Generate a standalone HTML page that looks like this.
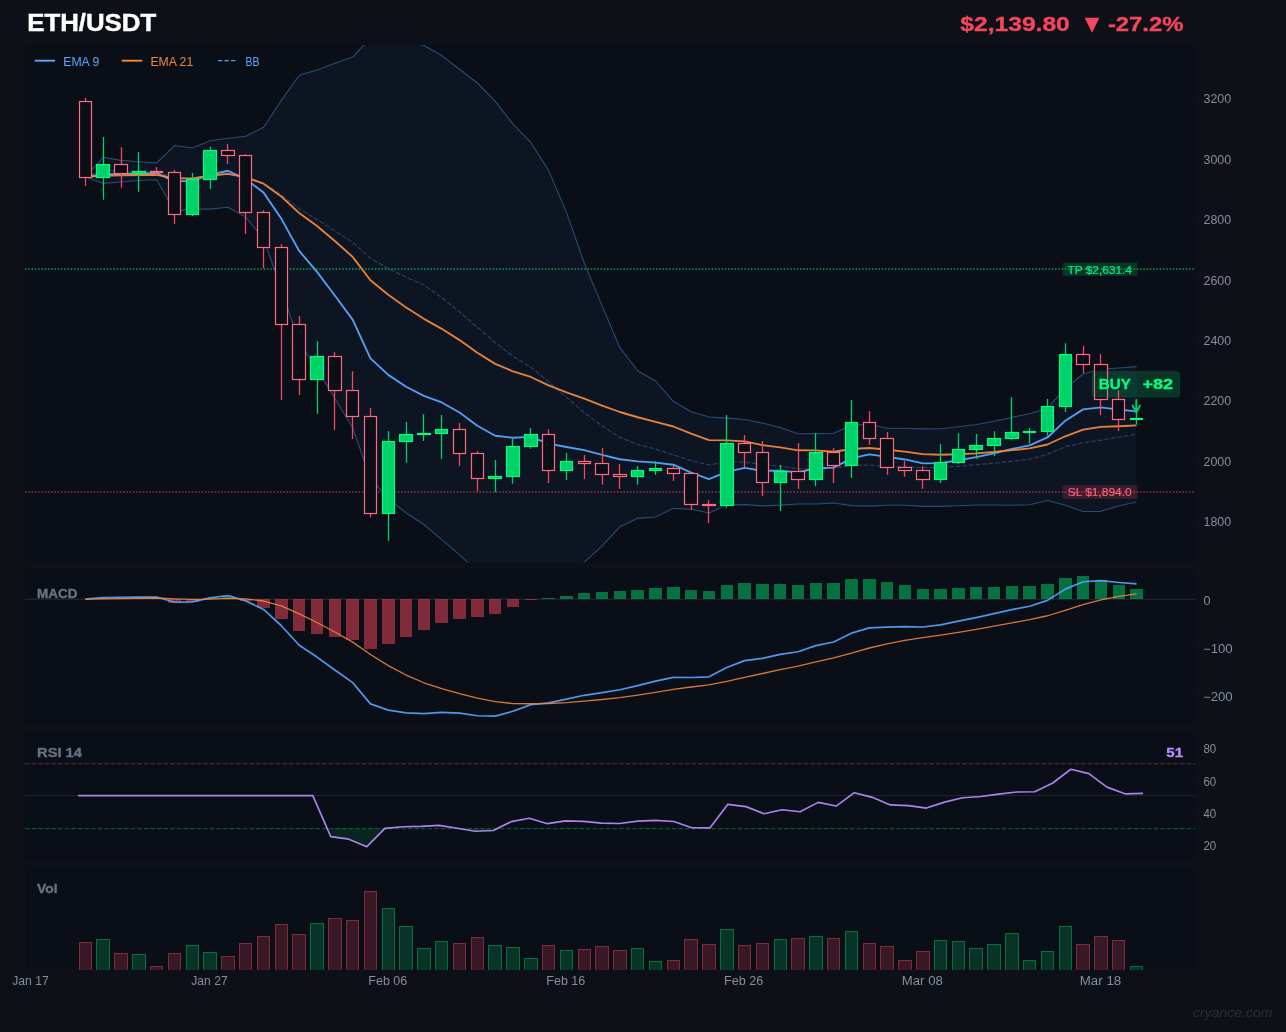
<!DOCTYPE html>
<html><head><meta charset="utf-8"><title>ETH/USDT</title>
<style>html,body{margin:0;padding:0;background:#0d1117;}svg{display:block;will-change:transform;}body{width:1286px;height:1032px;overflow:hidden;font-family:"Liberation Sans",sans-serif;}</style></head>
<body>
<svg width="1286" height="1032" viewBox="0 0 1286 1032" font-family="'Liberation Sans', sans-serif">
<rect width="1286" height="1032" fill="#0d1117"/>
<rect x="25" y="45" width="1170" height="517.5" fill="#0a0e17"/>
<rect x="25" y="569" width="1170" height="155" fill="#0a0e17"/>
<rect x="25" y="731" width="1170" height="129" fill="#0a0e17"/>
<rect x="25" y="867" width="1170" height="103" fill="#0a0e17"/>
<defs>
<clipPath id="cm"><rect x="25" y="45" width="1170" height="517.5"/></clipPath>
<clipPath id="cd"><rect x="25" y="569" width="1170" height="155"/></clipPath>
<clipPath id="cr"><rect x="25" y="731" width="1170" height="129"/></clipPath>
<clipPath id="cv"><rect x="25" y="867" width="1170" height="103"/></clipPath>
</defs>
<line x1="25" x2="1195" y1="520.68" y2="520.68" stroke="#ffffff" stroke-opacity="0.013" stroke-width="1"/>
<line x1="25" x2="1195" y1="460.21" y2="460.21" stroke="#ffffff" stroke-opacity="0.013" stroke-width="1"/>
<line x1="25" x2="1195" y1="399.74" y2="399.74" stroke="#ffffff" stroke-opacity="0.013" stroke-width="1"/>
<line x1="25" x2="1195" y1="339.27" y2="339.27" stroke="#ffffff" stroke-opacity="0.013" stroke-width="1"/>
<line x1="25" x2="1195" y1="278.8" y2="278.8" stroke="#ffffff" stroke-opacity="0.013" stroke-width="1"/>
<line x1="25" x2="1195" y1="218.33" y2="218.33" stroke="#ffffff" stroke-opacity="0.013" stroke-width="1"/>
<line x1="25" x2="1195" y1="157.86" y2="157.86" stroke="#ffffff" stroke-opacity="0.013" stroke-width="1"/>
<line x1="25" x2="1195" y1="97.39" y2="97.39" stroke="#ffffff" stroke-opacity="0.013" stroke-width="1"/>
<g clip-path="url(#cm)">
<polygon points="85.4,176.9 103.22,157.4 121.03,160.35 138.85,161.69 156.67,162.85 174.48,145.56 192.3,148.03 210.12,140.67 227.93,138.21 245.75,136.24 263.57,127.28 281.38,100.43 299.2,75.23 317.01,70.04 334.83,63.25 352.65,57.04 370.46,37.91 388.28,38.52 406.1,41.48 423.91,45.43 441.73,55.6 459.55,69.2 477.36,83 495.18,101.17 513,124.2 530.81,142.44 548.63,170.4 566.45,212.4 584.26,263 602.08,305.61 619.89,347.71 637.71,370.78 655.53,381.01 673.34,401.34 691.16,411.77 708.98,417.06 726.79,418.12 744.61,419.47 762.43,423.06 780.24,427.55 798.06,433.78 815.88,433.62 833.69,433.23 851.51,425.26 869.33,423.98 887.14,428.22 904.96,428.21 922.78,428.87 940.59,428.78 958.41,426.79 976.23,424.43 994.04,421.26 1011.86,417.35 1029.67,413.7 1047.49,408.04 1065.31,388.2 1083.12,374.02 1100.94,368.96 1118.76,367.99 1136.57,366.67 1136.57,502.05 1118.76,506.01 1100.94,511.34 1083.12,511.57 1065.31,505.28 1047.49,500.58 1029.67,504.74 1011.86,505.3 994.04,505 976.23,505.02 958.41,505.81 940.59,506.35 922.78,506.38 904.96,505.19 887.14,505.19 869.33,506.12 851.51,505.62 833.69,503.08 815.88,503.98 798.06,503.93 780.24,505.13 762.43,505.83 744.61,504.6 726.79,504.84 708.98,512.94 691.16,509.33 673.34,508.36 655.53,516.96 637.71,518.34 619.89,526.82 602.08,545.97 584.26,562.41 566.45,582.24 548.63,593.15 530.81,591.98 513,588.26 495.18,583.92 477.36,571.59 459.55,554.84 441.73,539.55 423.91,524.53 406.1,512.93 388.28,498.47 370.46,478.79 352.65,427.8 334.83,398.44 317.01,368.9 299.2,342.73 281.38,289.16 263.57,238.85 245.75,217.14 227.93,207.25 210.12,209.13 192.3,208.94 174.48,211.34 156.67,179.75 138.85,180.51 121.03,182.05 103.22,183.4 85.4,176.9" fill="#58a6ff" fill-opacity="0.05"/>
<polyline points="85.4,176.9 103.22,157.4 121.03,160.35 138.85,161.69 156.67,162.85 174.48,145.56 192.3,148.03 210.12,140.67 227.93,138.21 245.75,136.24 263.57,127.28 281.38,100.43 299.2,75.23 317.01,70.04 334.83,63.25 352.65,57.04 370.46,37.91 388.28,38.52 406.1,41.48 423.91,45.43 441.73,55.6 459.55,69.2 477.36,83 495.18,101.17 513,124.2 530.81,142.44 548.63,170.4 566.45,212.4 584.26,263 602.08,305.61 619.89,347.71 637.71,370.78 655.53,381.01 673.34,401.34 691.16,411.77 708.98,417.06 726.79,418.12 744.61,419.47 762.43,423.06 780.24,427.55 798.06,433.78 815.88,433.62 833.69,433.23 851.51,425.26 869.33,423.98 887.14,428.22 904.96,428.21 922.78,428.87 940.59,428.78 958.41,426.79 976.23,424.43 994.04,421.26 1011.86,417.35 1029.67,413.7 1047.49,408.04 1065.31,388.2 1083.12,374.02 1100.94,368.96 1118.76,367.99 1136.57,366.67" fill="none" stroke="#58a6ff" stroke-opacity="0.4" stroke-width="1.1" stroke-linejoin="round"/>
<polyline points="85.4,176.9 103.22,183.4 121.03,182.05 138.85,180.51 156.67,179.75 174.48,211.34 192.3,208.94 210.12,209.13 227.93,207.25 245.75,217.14 263.57,238.85 281.38,289.16 299.2,342.73 317.01,368.9 334.83,398.44 352.65,427.8 370.46,478.79 388.28,498.47 406.1,512.93 423.91,524.53 441.73,539.55 459.55,554.84 477.36,571.59 495.18,583.92 513,588.26 530.81,591.98 548.63,593.15 566.45,582.24 584.26,562.41 602.08,545.97 619.89,526.82 637.71,518.34 655.53,516.96 673.34,508.36 691.16,509.33 708.98,512.94 726.79,504.84 744.61,504.6 762.43,505.83 780.24,505.13 798.06,503.93 815.88,503.98 833.69,503.08 851.51,505.62 869.33,506.12 887.14,505.19 904.96,505.19 922.78,506.38 940.59,506.35 958.41,505.81 976.23,505.02 994.04,505 1011.86,505.3 1029.67,504.74 1047.49,500.58 1065.31,505.28 1083.12,511.57 1100.94,511.34 1118.76,506.01 1136.57,502.05" fill="none" stroke="#58a6ff" stroke-opacity="0.4" stroke-width="1.1" stroke-linejoin="round"/>
<polyline points="85.4,176.9 103.22,170.4 121.03,171.2 138.85,171.1 156.67,171.3 174.48,178.45 192.3,178.49 210.12,174.9 227.93,172.73 245.75,176.69 263.57,183.06 281.38,194.79 299.2,208.98 317.01,219.47 334.83,230.85 352.65,242.42 370.46,258.35 388.28,268.49 406.1,277.21 423.91,284.98 441.73,297.57 459.55,312.02 477.36,327.3 495.18,342.55 513,356.23 530.81,367.21 548.63,381.78 566.45,397.32 584.26,412.71 602.08,425.79 619.89,437.26 637.71,444.56 655.53,448.98 673.34,454.85 691.16,460.55 708.98,465 726.79,461.48 744.61,462.04 762.43,464.45 780.24,466.34 798.06,468.86 815.88,468.8 833.69,468.16 851.51,465.44 869.33,465.05 887.14,466.71 904.96,466.7 922.78,467.62 940.59,467.56 958.41,466.3 976.23,464.73 994.04,463.13 1011.86,461.32 1029.67,459.22 1047.49,454.31 1065.31,446.74 1083.12,442.79 1100.94,440.15 1118.76,437 1136.57,434.36" fill="none" stroke="#58a6ff" stroke-opacity="0.3" stroke-width="1.25" stroke-dasharray="4.6 2"/>
<polyline points="85.4,176.9 103.22,174.3 121.03,174 138.85,173.36 156.67,173.11 174.48,181.33 192.3,180.8 210.12,174.6 227.93,170.76 245.75,179.07 263.57,192.61 281.38,218.85 299.2,250.94 317.01,271.91 334.83,295.55 352.65,319.64 370.46,358.37 388.28,374.88 406.1,386.7 423.91,395.9 441.73,402.48 459.55,412.55 477.36,425.7 495.18,435.72 513,437.73 530.81,436.95 548.63,443.56 566.45,446.99 584.26,450.21 602.08,454.97 619.89,459.23 637.71,461.33 655.53,462.62 673.34,464.72 691.16,472.59 708.98,479.08 726.79,471.84 744.61,467.87 762.43,470.74 780.24,470.71 798.06,472.39 815.88,468.25 833.69,467.68 851.51,458.44 869.33,454.36 887.14,456.86 904.96,459.47 922.78,463.42 940.59,463.11 958.41,460.23 976.23,457.14 994.04,453.28 1011.86,448.96 1029.67,445.37 1047.49,437.47 1065.31,420.7 1083.12,409.36 1100.94,407.31 1118.76,409.69 1136.57,411.31" fill="none" stroke="#58a6ff" stroke-opacity="0.95" stroke-width="1.85" stroke-linejoin="round"/>
<polyline points="85.4,176.9 103.22,175.72 121.03,175.45 138.85,175.03 156.67,174.76 174.48,178.35 192.3,178.38 210.12,175.78 227.93,173.93 245.75,177.42 263.57,183.73 281.38,196.46 299.2,213.08 317.01,226.06 334.83,240.97 352.65,256.88 370.46,280.19 388.28,294.8 406.1,307.46 423.91,318.84 441.73,328.84 459.55,340.11 477.36,352.67 495.18,363.86 513,371.31 530.81,376.99 548.63,385.45 566.45,392.29 584.26,398.73 602.08,405.57 619.89,412 637.71,417.25 655.53,421.84 673.34,426.5 691.16,433.56 708.98,440.05 726.79,440.31 744.61,441.37 762.43,445.08 780.24,447.4 798.06,450.29 815.88,450.41 833.69,451.78 851.51,449.02 869.33,448.02 887.14,449.74 904.96,451.57 922.78,454.08 940.59,454.79 958.41,454.24 976.23,453.38 994.04,451.96 1011.86,450.12 1029.67,448.38 1047.49,444.52 1065.31,436.26 1083.12,429.69 1100.94,426.91 1118.76,426.21 1136.57,425.44" fill="none" stroke="#f0883e" stroke-opacity="0.95" stroke-width="1.85" stroke-linejoin="round"/>
<line x1="25" x2="1195" y1="269.0" y2="269.0" stroke="#00d26a" stroke-opacity="0.78" stroke-width="1.55" stroke-dasharray="1.5 1.77"/>
<line x1="25" x2="1195" y1="492.0" y2="492.0" stroke="#f6465d" stroke-opacity="0.62" stroke-width="1.55" stroke-dasharray="1.5 1.77"/>
<line x1="85.5" x2="85.5" y1="97.9" y2="186" stroke="#f6465d" stroke-width="1.3"/>
<rect x="79.5" y="101.5" width="12" height="76" fill="#0a0e17" stroke="#ff6b81" stroke-width="1.2"/>
<line x1="103.5" x2="103.5" y1="137.1" y2="199.8" stroke="#00d26a" stroke-width="1.3"/>
<rect x="96.5" y="164.5" width="13" height="13" fill="#00d26a" stroke="#00ff7f" stroke-width="1.15"/>
<line x1="121.5" x2="121.5" y1="147.2" y2="187.8" stroke="#f6465d" stroke-width="1.3"/>
<rect x="114.5" y="164.5" width="13" height="9" fill="#0a0e17" stroke="#ff6b81" stroke-width="1.2"/>
<line x1="138.5" x2="138.5" y1="152" y2="191.7" stroke="#00d26a" stroke-width="1.3"/>
<rect x="132.5" y="171.5" width="13" height="2" fill="#00d26a" stroke="#00ff7f" stroke-width="1.15"/>
<line x1="156.5" x2="156.5" y1="167.1" y2="175.6" stroke="#f6465d" stroke-width="1.3"/>
<rect x="150.5" y="171.5" width="12" height="1" fill="#0a0e17" stroke="#ff6b81" stroke-width="1.2"/>
<line x1="174.5" x2="174.5" y1="169.9" y2="223.9" stroke="#f6465d" stroke-width="1.3"/>
<rect x="168.5" y="172.5" width="12" height="42" fill="#0a0e17" stroke="#ff6b81" stroke-width="1.2"/>
<line x1="192.5" x2="192.5" y1="173" y2="216.1" stroke="#00d26a" stroke-width="1.3"/>
<rect x="186.5" y="179.5" width="12" height="35" fill="#00d26a" stroke="#00ff7f" stroke-width="1.15"/>
<line x1="210.5" x2="210.5" y1="146.9" y2="188.9" stroke="#00d26a" stroke-width="1.3"/>
<rect x="203.5" y="150.5" width="13" height="29" fill="#00d26a" stroke="#00ff7f" stroke-width="1.15"/>
<line x1="227.5" x2="227.5" y1="143.8" y2="164" stroke="#f6465d" stroke-width="1.3"/>
<rect x="221.5" y="150.5" width="13" height="5" fill="#0a0e17" stroke="#ff6b81" stroke-width="1.2"/>
<line x1="245.5" x2="245.5" y1="154.2" y2="234" stroke="#f6465d" stroke-width="1.3"/>
<rect x="239.5" y="155.5" width="12" height="57" fill="#0a0e17" stroke="#ff6b81" stroke-width="1.2"/>
<line x1="263.5" x2="263.5" y1="210.3" y2="268.3" stroke="#f6465d" stroke-width="1.3"/>
<rect x="257.5" y="212.5" width="12" height="35" fill="#0a0e17" stroke="#ff6b81" stroke-width="1.2"/>
<line x1="281.5" x2="281.5" y1="244.3" y2="400.1" stroke="#f6465d" stroke-width="1.3"/>
<rect x="275.5" y="247.5" width="12" height="77" fill="#0a0e17" stroke="#ff6b81" stroke-width="1.2"/>
<line x1="299.5" x2="299.5" y1="316" y2="395.1" stroke="#f6465d" stroke-width="1.3"/>
<rect x="292.5" y="324.5" width="13" height="55" fill="#0a0e17" stroke="#ff6b81" stroke-width="1.2"/>
<line x1="317.5" x2="317.5" y1="341.2" y2="413.8" stroke="#00d26a" stroke-width="1.3"/>
<rect x="310.5" y="356.5" width="13" height="23" fill="#00d26a" stroke="#00ff7f" stroke-width="1.15"/>
<line x1="334.5" x2="334.5" y1="352.1" y2="430.1" stroke="#f6465d" stroke-width="1.3"/>
<rect x="328.5" y="356.5" width="13" height="34" fill="#0a0e17" stroke="#ff6b81" stroke-width="1.2"/>
<line x1="352.5" x2="352.5" y1="371.2" y2="439" stroke="#f6465d" stroke-width="1.3"/>
<rect x="346.5" y="390.5" width="12" height="26" fill="#0a0e17" stroke="#ff6b81" stroke-width="1.2"/>
<line x1="370.5" x2="370.5" y1="408" y2="517.2" stroke="#f6465d" stroke-width="1.3"/>
<rect x="364.5" y="416.5" width="12" height="97" fill="#0a0e17" stroke="#ff6b81" stroke-width="1.2"/>
<line x1="388.5" x2="388.5" y1="431.2" y2="540.8" stroke="#00d26a" stroke-width="1.3"/>
<rect x="382.5" y="441.5" width="12" height="72" fill="#00d26a" stroke="#00ff7f" stroke-width="1.15"/>
<line x1="406.5" x2="406.5" y1="422" y2="462.8" stroke="#00d26a" stroke-width="1.3"/>
<rect x="399.5" y="434.5" width="13" height="7" fill="#00d26a" stroke="#00ff7f" stroke-width="1.15"/>
<line x1="423.5" x2="423.5" y1="414.1" y2="441" stroke="#00d26a" stroke-width="1.3"/>
<rect x="417.5" y="433.5" width="13" height="1" fill="#00d26a" stroke="#00ff7f" stroke-width="1.15"/>
<line x1="441.5" x2="441.5" y1="415" y2="458.9" stroke="#00d26a" stroke-width="1.3"/>
<rect x="435.5" y="429.5" width="12" height="4" fill="#00d26a" stroke="#00ff7f" stroke-width="1.15"/>
<line x1="459.5" x2="459.5" y1="423.1" y2="465.9" stroke="#f6465d" stroke-width="1.3"/>
<rect x="453.5" y="429.5" width="12" height="24" fill="#0a0e17" stroke="#ff6b81" stroke-width="1.2"/>
<line x1="477.5" x2="477.5" y1="451.1" y2="491.1" stroke="#f6465d" stroke-width="1.3"/>
<rect x="471.5" y="453.5" width="12" height="25" fill="#0a0e17" stroke="#ff6b81" stroke-width="1.2"/>
<line x1="495.5" x2="495.5" y1="460.1" y2="492.3" stroke="#00d26a" stroke-width="1.3"/>
<rect x="488.5" y="476.5" width="13" height="2" fill="#00d26a" stroke="#00ff7f" stroke-width="1.15"/>
<line x1="512.5" x2="512.5" y1="438.7" y2="483.8" stroke="#00d26a" stroke-width="1.3"/>
<rect x="506.5" y="446.5" width="13" height="30" fill="#00d26a" stroke="#00ff7f" stroke-width="1.15"/>
<line x1="530.5" x2="530.5" y1="428.1" y2="448.8" stroke="#00d26a" stroke-width="1.3"/>
<rect x="524.5" y="434.5" width="13" height="12" fill="#00d26a" stroke="#00ff7f" stroke-width="1.15"/>
<line x1="548.5" x2="548.5" y1="429.3" y2="483" stroke="#f6465d" stroke-width="1.3"/>
<rect x="542.5" y="434.5" width="12" height="36" fill="#0a0e17" stroke="#ff6b81" stroke-width="1.2"/>
<line x1="566.5" x2="566.5" y1="453" y2="479.9" stroke="#00d26a" stroke-width="1.3"/>
<rect x="560.5" y="461.5" width="12" height="9" fill="#00d26a" stroke="#00ff7f" stroke-width="1.15"/>
<line x1="584.5" x2="584.5" y1="455" y2="479.1" stroke="#f6465d" stroke-width="1.3"/>
<rect x="578.5" y="461.5" width="12" height="2" fill="#0a0e17" stroke="#ff6b81" stroke-width="1.2"/>
<line x1="602.5" x2="602.5" y1="448" y2="484.8" stroke="#f6465d" stroke-width="1.3"/>
<rect x="595.5" y="463.5" width="13" height="11" fill="#0a0e17" stroke="#ff6b81" stroke-width="1.2"/>
<line x1="619.5" x2="619.5" y1="464" y2="488.9" stroke="#f6465d" stroke-width="1.3"/>
<rect x="613.5" y="474.5" width="13" height="2" fill="#0a0e17" stroke="#ff6b81" stroke-width="1.2"/>
<line x1="637.5" x2="637.5" y1="465.9" y2="484.8" stroke="#00d26a" stroke-width="1.3"/>
<rect x="631.5" y="470.5" width="12" height="6" fill="#00d26a" stroke="#00ff7f" stroke-width="1.15"/>
<line x1="655.5" x2="655.5" y1="461.2" y2="474.9" stroke="#00d26a" stroke-width="1.3"/>
<rect x="649.5" y="468.5" width="12" height="2" fill="#00d26a" stroke="#00ff7f" stroke-width="1.15"/>
<line x1="673.5" x2="673.5" y1="465.9" y2="481" stroke="#f6465d" stroke-width="1.3"/>
<rect x="667.5" y="468.5" width="12" height="5" fill="#0a0e17" stroke="#ff6b81" stroke-width="1.2"/>
<line x1="691.5" x2="691.5" y1="473.6" y2="509.7" stroke="#f6465d" stroke-width="1.3"/>
<rect x="684.5" y="473.5" width="13" height="31" fill="#0a0e17" stroke="#ff6b81" stroke-width="1.2"/>
<line x1="708.5" x2="708.5" y1="500.1" y2="522.9" stroke="#f6465d" stroke-width="1.3"/>
<rect x="702.5" y="504.5" width="13" height="1" fill="#0a0e17" stroke="#ff6b81" stroke-width="1.2"/>
<line x1="726.5" x2="726.5" y1="415" y2="507.9" stroke="#00d26a" stroke-width="1.3"/>
<rect x="720.5" y="443.5" width="13" height="62" fill="#00d26a" stroke="#00ff7f" stroke-width="1.15"/>
<line x1="744.5" x2="744.5" y1="435.1" y2="467" stroke="#f6465d" stroke-width="1.3"/>
<rect x="738.5" y="443.5" width="12" height="9" fill="#0a0e17" stroke="#ff6b81" stroke-width="1.2"/>
<line x1="762.5" x2="762.5" y1="441" y2="495.9" stroke="#f6465d" stroke-width="1.3"/>
<rect x="756.5" y="452.5" width="12" height="30" fill="#0a0e17" stroke="#ff6b81" stroke-width="1.2"/>
<line x1="780.5" x2="780.5" y1="465.1" y2="511" stroke="#00d26a" stroke-width="1.3"/>
<rect x="774.5" y="471.5" width="12" height="11" fill="#00d26a" stroke="#00ff7f" stroke-width="1.15"/>
<line x1="798.5" x2="798.5" y1="443" y2="488.9" stroke="#f6465d" stroke-width="1.3"/>
<rect x="791.5" y="471.5" width="13" height="8" fill="#0a0e17" stroke="#ff6b81" stroke-width="1.2"/>
<line x1="815.5" x2="815.5" y1="433.2" y2="486.1" stroke="#00d26a" stroke-width="1.3"/>
<rect x="809.5" y="452.5" width="13" height="27" fill="#00d26a" stroke="#00ff7f" stroke-width="1.15"/>
<line x1="833.5" x2="833.5" y1="448" y2="483" stroke="#f6465d" stroke-width="1.3"/>
<rect x="827.5" y="452.5" width="12" height="13" fill="#0a0e17" stroke="#ff6b81" stroke-width="1.2"/>
<line x1="851.5" x2="851.5" y1="400.1" y2="478" stroke="#00d26a" stroke-width="1.3"/>
<rect x="845.5" y="422.5" width="12" height="43" fill="#00d26a" stroke="#00ff7f" stroke-width="1.15"/>
<line x1="869.5" x2="869.5" y1="411.1" y2="444.9" stroke="#f6465d" stroke-width="1.3"/>
<rect x="863.5" y="422.5" width="12" height="16" fill="#0a0e17" stroke="#ff6b81" stroke-width="1.2"/>
<line x1="887.5" x2="887.5" y1="432" y2="474.9" stroke="#f6465d" stroke-width="1.3"/>
<rect x="880.5" y="438.5" width="13" height="29" fill="#0a0e17" stroke="#ff6b81" stroke-width="1.2"/>
<line x1="904.5" x2="904.5" y1="461.2" y2="476.8" stroke="#f6465d" stroke-width="1.3"/>
<rect x="898.5" y="467.5" width="13" height="3" fill="#0a0e17" stroke="#ff6b81" stroke-width="1.2"/>
<line x1="922.5" x2="922.5" y1="466.2" y2="488.9" stroke="#f6465d" stroke-width="1.3"/>
<rect x="916.5" y="470.5" width="13" height="9" fill="#0a0e17" stroke="#ff6b81" stroke-width="1.2"/>
<line x1="940.5" x2="940.5" y1="444.1" y2="483" stroke="#00d26a" stroke-width="1.3"/>
<rect x="934.5" y="462.5" width="12" height="17" fill="#00d26a" stroke="#00ff7f" stroke-width="1.15"/>
<line x1="958.5" x2="958.5" y1="433.2" y2="463.9" stroke="#00d26a" stroke-width="1.3"/>
<rect x="952.5" y="449.5" width="12" height="13" fill="#00d26a" stroke="#00ff7f" stroke-width="1.15"/>
<line x1="976.5" x2="976.5" y1="434" y2="458.9" stroke="#00d26a" stroke-width="1.3"/>
<rect x="969.5" y="445.5" width="13" height="4" fill="#00d26a" stroke="#00ff7f" stroke-width="1.15"/>
<line x1="994.5" x2="994.5" y1="431.2" y2="456.1" stroke="#00d26a" stroke-width="1.3"/>
<rect x="987.5" y="438.5" width="13" height="7" fill="#00d26a" stroke="#00ff7f" stroke-width="1.15"/>
<line x1="1011.5" x2="1011.5" y1="397.2" y2="440.1" stroke="#00d26a" stroke-width="1.3"/>
<rect x="1005.5" y="432.5" width="13" height="6" fill="#00d26a" stroke="#00ff7f" stroke-width="1.15"/>
<line x1="1029.5" x2="1029.5" y1="428" y2="443.1" stroke="#00d26a" stroke-width="1.3"/>
<rect x="1023.5" y="431.5" width="12" height="1" fill="#00d26a" stroke="#00ff7f" stroke-width="1.15"/>
<line x1="1047.5" x2="1047.5" y1="398.9" y2="435.8" stroke="#00d26a" stroke-width="1.3"/>
<rect x="1041.5" y="406.5" width="12" height="25" fill="#00d26a" stroke="#00ff7f" stroke-width="1.15"/>
<line x1="1065.5" x2="1065.5" y1="343.2" y2="412" stroke="#00d26a" stroke-width="1.3"/>
<rect x="1059.5" y="354.5" width="12" height="52" fill="#00d26a" stroke="#00ff7f" stroke-width="1.15"/>
<line x1="1083.5" x2="1083.5" y1="345.9" y2="373.1" stroke="#f6465d" stroke-width="1.3"/>
<rect x="1076.5" y="354.5" width="13" height="10" fill="#0a0e17" stroke="#ff6b81" stroke-width="1.2"/>
<line x1="1100.5" x2="1100.5" y1="354.1" y2="415.1" stroke="#f6465d" stroke-width="1.3"/>
<rect x="1094.5" y="364.5" width="13" height="35" fill="#0a0e17" stroke="#ff6b81" stroke-width="1.2"/>
<line x1="1118.5" x2="1118.5" y1="390.3" y2="431.1" stroke="#f6465d" stroke-width="1.3"/>
<rect x="1112.5" y="399.5" width="12" height="20" fill="#0a0e17" stroke="#ff6b81" stroke-width="1.2"/>
<line x1="1136.5" x2="1136.5" y1="412.3" y2="424.4" stroke="#00d26a" stroke-width="1.3"/>
<rect x="1130.5" y="418.5" width="12" height="1" fill="#00d26a" stroke="#00ff7f" stroke-width="1.15"/>
</g>
<rect x="1062.8" y="262.6" width="74.6" height="13.4" rx="1.5" fill="#00d26a" fill-opacity="0.2"/>
<text x="1067.5" y="274" font-size="11.6" fill="#00f080" stroke="#00f080" stroke-width="0.2" textLength="64.4" lengthAdjust="spacingAndGlyphs">TP $2,631.4</text>
<rect x="1062.8" y="485.2" width="74.6" height="13.6" rx="1.5" fill="#f6465d" fill-opacity="0.2"/>
<text x="1067.7" y="496.1" font-size="11.6" fill="#ff6078" stroke="#ff6078" stroke-width="0.2" textLength="64" lengthAdjust="spacingAndGlyphs">SL $1,894.0</text>
<rect x="1092" y="371.2" width="88" height="26" rx="4" fill="#00d26a" fill-opacity="0.2" stroke="#00d26a" stroke-opacity="0.1" stroke-width="1"/>
<text x="1098.8" y="389.2" font-size="14.8" fill="#00ff7f" font-weight="bold" stroke="#00ff7f" stroke-width="0.35" textLength="32" lengthAdjust="spacingAndGlyphs">BUY</text>
<text x="1142.4" y="389.2" font-size="14.8" fill="#00ff7f" font-weight="bold" stroke="#00ff7f" stroke-width="0.35" textLength="30.8" lengthAdjust="spacingAndGlyphs">+82</text>
<path d="M1136.3 400V411.6M1132.6 405.6L1136.3 412.2L1140 405.6" fill="none" stroke="#00d26a" stroke-width="1.9" stroke-linecap="round" stroke-linejoin="miter"/>
<line x1="34.7" x2="55.1" y1="60.7" y2="60.7" stroke="#58a6ff" stroke-width="1.9"/>
<text x="63.3" y="65.8" font-size="12" fill="#58a6ff" textLength="36" lengthAdjust="spacingAndGlyphs">EMA 9</text>
<line x1="121.8" x2="142.2" y1="60.7" y2="60.7" stroke="#f0883e" stroke-width="1.9"/>
<text x="150.4" y="65.8" font-size="12" fill="#f0883e" textLength="42.8" lengthAdjust="spacingAndGlyphs">EMA 21</text>
<line x1="218" x2="237" y1="60.7" y2="60.7" stroke="#58a6ff" stroke-opacity="0.95" stroke-width="1.25" stroke-dasharray="4.4 2.1"/>
<text x="245.6" y="65.8" font-size="12" fill="#58a6ff" textLength="14" lengthAdjust="spacingAndGlyphs">BB</text>
<text x="1203.5" y="526.38" font-size="12" fill="#848e9c" textLength="27.7" lengthAdjust="spacingAndGlyphs">1800</text>
<text x="1203.5" y="465.91" font-size="12" fill="#848e9c" textLength="27.7" lengthAdjust="spacingAndGlyphs">2000</text>
<text x="1203.5" y="405.44" font-size="12" fill="#848e9c" textLength="27.7" lengthAdjust="spacingAndGlyphs">2200</text>
<text x="1203.5" y="344.97" font-size="12" fill="#848e9c" textLength="27.7" lengthAdjust="spacingAndGlyphs">2400</text>
<text x="1203.5" y="284.5" font-size="12" fill="#848e9c" textLength="27.7" lengthAdjust="spacingAndGlyphs">2600</text>
<text x="1203.5" y="224.03" font-size="12" fill="#848e9c" textLength="27.7" lengthAdjust="spacingAndGlyphs">2800</text>
<text x="1203.5" y="163.56" font-size="12" fill="#848e9c" textLength="27.7" lengthAdjust="spacingAndGlyphs">3000</text>
<text x="1203.5" y="103.09" font-size="12" fill="#848e9c" textLength="27.7" lengthAdjust="spacingAndGlyphs">3200</text>
<line x1="25" x2="1195" y1="647.2" y2="647.2" stroke="#ffffff" stroke-opacity="0.013" stroke-width="1"/>
<line x1="25" x2="1195" y1="695.2" y2="695.2" stroke="#ffffff" stroke-opacity="0.013" stroke-width="1"/>
<line x1="25" x2="1195" y1="599.2" y2="599.2" stroke="#ffffff" stroke-opacity="0.13" stroke-width="1"/>
<g clip-path="url(#cd)">
<rect x="97" y="598" width="12" height="1" fill="#00d26a" fill-opacity="0.5"/>
<rect x="115" y="598" width="12" height="1" fill="#00d26a" fill-opacity="0.5"/>
<rect x="133" y="598" width="12" height="1" fill="#00d26a" fill-opacity="0.5"/>
<rect x="150" y="598" width="13" height="1" fill="#00d26a" fill-opacity="0.5"/>
<rect x="168" y="599" width="13" height="4" fill="#f6465d" fill-opacity="0.5"/>
<rect x="186" y="599" width="13" height="3" fill="#f6465d" fill-opacity="0.5"/>
<rect x="204" y="598" width="12" height="1" fill="#00d26a" fill-opacity="0.5"/>
<rect x="222" y="596" width="12" height="3" fill="#00d26a" fill-opacity="0.5"/>
<rect x="240" y="599" width="12" height="2" fill="#f6465d" fill-opacity="0.5"/>
<rect x="257" y="599" width="13" height="9" fill="#f6465d" fill-opacity="0.5"/>
<rect x="275" y="599" width="13" height="20" fill="#f6465d" fill-opacity="0.5"/>
<rect x="293" y="599" width="12" height="32" fill="#f6465d" fill-opacity="0.5"/>
<rect x="311" y="599" width="12" height="35" fill="#f6465d" fill-opacity="0.5"/>
<rect x="329" y="599" width="12" height="38" fill="#f6465d" fill-opacity="0.5"/>
<rect x="346" y="599" width="13" height="41" fill="#f6465d" fill-opacity="0.5"/>
<rect x="364" y="599" width="13" height="50" fill="#f6465d" fill-opacity="0.5"/>
<rect x="382" y="599" width="13" height="45" fill="#f6465d" fill-opacity="0.5"/>
<rect x="400" y="599" width="12" height="38" fill="#f6465d" fill-opacity="0.5"/>
<rect x="418" y="599" width="12" height="31" fill="#f6465d" fill-opacity="0.5"/>
<rect x="435" y="599" width="13" height="24" fill="#f6465d" fill-opacity="0.5"/>
<rect x="453" y="599" width="13" height="20" fill="#f6465d" fill-opacity="0.5"/>
<rect x="471" y="599" width="13" height="18" fill="#f6465d" fill-opacity="0.5"/>
<rect x="489" y="599" width="12" height="15" fill="#f6465d" fill-opacity="0.5"/>
<rect x="507" y="599" width="12" height="8" fill="#f6465d" fill-opacity="0.5"/>
<rect x="525" y="599" width="12" height="1" fill="#f6465d" fill-opacity="0.5"/>
<rect x="542" y="598" width="13" height="1" fill="#00d26a" fill-opacity="0.5"/>
<rect x="560" y="596" width="13" height="3" fill="#00d26a" fill-opacity="0.5"/>
<rect x="578" y="593" width="12" height="6" fill="#00d26a" fill-opacity="0.5"/>
<rect x="596" y="592" width="12" height="7" fill="#00d26a" fill-opacity="0.5"/>
<rect x="614" y="591" width="12" height="8" fill="#00d26a" fill-opacity="0.5"/>
<rect x="631" y="590" width="13" height="9" fill="#00d26a" fill-opacity="0.5"/>
<rect x="649" y="588" width="13" height="11" fill="#00d26a" fill-opacity="0.5"/>
<rect x="667" y="587" width="13" height="12" fill="#00d26a" fill-opacity="0.5"/>
<rect x="685" y="590" width="12" height="9" fill="#00d26a" fill-opacity="0.5"/>
<rect x="703" y="591" width="12" height="8" fill="#00d26a" fill-opacity="0.5"/>
<rect x="721" y="585" width="12" height="14" fill="#00d26a" fill-opacity="0.5"/>
<rect x="738" y="583" width="13" height="16" fill="#00d26a" fill-opacity="0.5"/>
<rect x="756" y="584" width="13" height="15" fill="#00d26a" fill-opacity="0.5"/>
<rect x="774" y="584" width="12" height="15" fill="#00d26a" fill-opacity="0.5"/>
<rect x="792" y="585" width="12" height="14" fill="#00d26a" fill-opacity="0.5"/>
<rect x="810" y="583" width="12" height="16" fill="#00d26a" fill-opacity="0.5"/>
<rect x="827" y="583" width="13" height="16" fill="#00d26a" fill-opacity="0.5"/>
<rect x="845" y="579" width="13" height="20" fill="#00d26a" fill-opacity="0.5"/>
<rect x="863" y="579" width="13" height="20" fill="#00d26a" fill-opacity="0.5"/>
<rect x="881" y="582" width="12" height="17" fill="#00d26a" fill-opacity="0.5"/>
<rect x="899" y="585" width="12" height="14" fill="#00d26a" fill-opacity="0.5"/>
<rect x="917" y="589" width="12" height="10" fill="#00d26a" fill-opacity="0.5"/>
<rect x="934" y="589" width="13" height="10" fill="#00d26a" fill-opacity="0.5"/>
<rect x="952" y="588" width="13" height="11" fill="#00d26a" fill-opacity="0.5"/>
<rect x="970" y="587" width="12" height="12" fill="#00d26a" fill-opacity="0.5"/>
<rect x="988" y="587" width="12" height="12" fill="#00d26a" fill-opacity="0.5"/>
<rect x="1006" y="586" width="12" height="13" fill="#00d26a" fill-opacity="0.5"/>
<rect x="1023" y="586" width="13" height="13" fill="#00d26a" fill-opacity="0.5"/>
<rect x="1041" y="584" width="13" height="15" fill="#00d26a" fill-opacity="0.5"/>
<rect x="1059" y="578" width="13" height="21" fill="#00d26a" fill-opacity="0.5"/>
<rect x="1077" y="576" width="12" height="23" fill="#00d26a" fill-opacity="0.5"/>
<rect x="1095" y="580" width="12" height="19" fill="#00d26a" fill-opacity="0.5"/>
<rect x="1113" y="585" width="12" height="14" fill="#00d26a" fill-opacity="0.5"/>
<rect x="1130" y="589" width="13" height="10" fill="#00d26a" fill-opacity="0.5"/>
<polyline points="85.4,599.2 103.22,597.55 121.03,597.41 138.85,597.06 156.67,596.98 174.48,602.27 192.3,601.89 210.12,597.9 227.93,595.5 245.75,600.86 263.57,609.42 281.38,625.75 299.2,645.28 317.01,657.07 334.83,670 352.65,682.6 370.46,703.85 388.28,710.13 406.1,712.91 423.91,713.64 441.73,712.4 459.55,713.19 477.36,715.73 495.18,716.08 513,711.22 530.81,704.62 548.63,702.83 566.45,699.07 584.26,695.29 602.08,692.61 619.89,689.74 637.71,685.62 655.53,681.17 673.34,677.42 691.16,677.52 708.98,676.82 726.79,667.52 744.61,660.6 762.43,658.31 780.24,654.38 798.06,651.74 815.88,645.6 833.69,642 851.51,633.14 869.33,627.89 887.14,627.11 904.96,626.57 922.78,627 940.59,624.84 958.41,621.18 976.23,617.57 994.04,613.64 1011.86,609.63 1029.67,606.28 1047.49,600.39 1065.31,589.15 1083.12,581.76 1100.94,580.63 1118.76,582.49 1136.57,583.96" fill="none" stroke="#58a6ff" stroke-opacity="0.9" stroke-width="1.7" stroke-linejoin="round"/>
<polyline points="85.4,599.2 103.22,598.87 121.03,598.58 138.85,598.28 156.67,598.02 174.48,598.87 192.3,599.47 210.12,599.16 227.93,598.43 245.75,598.91 263.57,601.01 281.38,605.96 299.2,613.82 317.01,622.47 334.83,631.98 352.65,642.1 370.46,654.45 388.28,665.59 406.1,675.05 423.91,682.77 441.73,688.7 459.55,693.59 477.36,698.02 495.18,701.63 513,703.55 530.81,703.76 548.63,703.58 566.45,702.67 584.26,701.2 602.08,699.48 619.89,697.53 637.71,695.15 655.53,692.35 673.34,689.37 691.16,687 708.98,684.96 726.79,681.47 744.61,677.3 762.43,673.5 780.24,669.68 798.06,666.09 815.88,661.99 833.69,657.99 851.51,653.02 869.33,648 887.14,643.82 904.96,640.37 922.78,637.7 940.59,635.12 958.41,632.34 976.23,629.38 994.04,626.23 1011.86,622.91 1029.67,619.59 1047.49,615.75 1065.31,610.43 1083.12,604.69 1100.94,599.88 1118.76,596.4 1136.57,593.92" fill="none" stroke="#f0883e" stroke-opacity="0.88" stroke-width="1.3" stroke-linejoin="round"/>
</g>
<text x="37" y="598" font-size="12.2" fill="#848e9c" font-weight="bold" stroke="#848e9c" stroke-width="0.35" opacity="0.78" textLength="40.5" lengthAdjust="spacingAndGlyphs">MACD</text>
<text x="1203.4" y="604.9" font-size="12" fill="#848e9c" textLength="7" lengthAdjust="spacingAndGlyphs">0</text>
<text x="1203" y="652.9" font-size="12" fill="#848e9c" textLength="29.7" lengthAdjust="spacingAndGlyphs">−100</text>
<text x="1203" y="700.9" font-size="12" fill="#848e9c" textLength="29.7" lengthAdjust="spacingAndGlyphs">−200</text>
<line x1="25" x2="1195" y1="844.05" y2="844.05" stroke="#ffffff" stroke-opacity="0.013" stroke-width="1"/>
<line x1="25" x2="1195" y1="811.75" y2="811.75" stroke="#ffffff" stroke-opacity="0.013" stroke-width="1"/>
<line x1="25" x2="1195" y1="779.45" y2="779.45" stroke="#ffffff" stroke-opacity="0.013" stroke-width="1"/>
<line x1="25" x2="1195" y1="747.15" y2="747.15" stroke="#ffffff" stroke-opacity="0.013" stroke-width="1"/>
<line x1="25" x2="1195" y1="795.5" y2="795.5" stroke="#ffffff" stroke-opacity="0.09" stroke-width="1"/>
<line x1="25" x2="1195" y1="763.5" y2="763.5" stroke="#f6465d" stroke-opacity="0.36" stroke-width="1.25" stroke-dasharray="4.6 2"/>
<line x1="25" x2="1195" y1="828.5" y2="828.5" stroke="#00d26a" stroke-opacity="0.36" stroke-width="1.25" stroke-dasharray="4.6 2"/>
<g clip-path="url(#cr)">
<polygon points="330.8,828.5 330.8,836.69 348.85,839.16 366.9,846.66 384.95,828.33 384.95,828.5" fill="#00d26a" fill-opacity="0.12"/>
<polygon points="457.15,828.5 457.15,828.3 475.2,831.24 493.25,830.49 493.25,828.5" fill="#00d26a" fill-opacity="0.12"/>
<polyline points="78.1,795.6 96.15,795.6 114.2,795.6 132.25,795.6 150.3,795.6 168.35,795.6 186.4,795.6 204.45,795.6 222.5,795.6 240.55,795.6 258.6,795.6 276.65,795.6 294.7,795.6 312.75,795.6 330.8,836.69 348.85,839.16 366.9,846.66 384.95,828.33 403,826.73 421.05,826.41 439.1,825.4 457.15,828.3 475.2,831.24 493.25,830.49 511.3,821.63 529.35,818.22 547.4,823.69 565.45,820.93 583.5,821.32 601.55,823.14 619.6,823.53 637.65,821.08 655.7,820.35 673.75,821.49 691.8,827.74 709.85,827.92 727.9,804.31 745.95,806.61 764,813.74 782.05,809.73 800.1,811.8 818.15,802.36 836.2,806.05 854.25,792.68 872.3,797.36 890.35,804.91 908.4,805.67 926.45,808.08 944.5,802.12 962.55,797.76 980.6,796.47 998.65,794.07 1016.7,791.95 1034.75,791.7 1052.8,783.01 1070.85,769.22 1088.9,773.67 1106.95,787.14 1125,793.81 1143.05,793.37" fill="none" stroke="#bc8cff" stroke-opacity="0.92" stroke-width="1.65" stroke-linejoin="round"/>
</g>
<text x="37" y="757.3" font-size="12.2" fill="#848e9c" font-weight="bold" stroke="#848e9c" stroke-width="0.35" opacity="0.78" textLength="45" lengthAdjust="spacingAndGlyphs">RSI 14</text>
<text x="1166.3" y="756.8" font-size="12.2" fill="#bc8cff" font-weight="bold" stroke="#bc8cff" stroke-width="0.35" textLength="16.7" lengthAdjust="spacingAndGlyphs">51</text>
<text x="1203.4" y="850.15" font-size="12" fill="#848e9c" textLength="12.8" lengthAdjust="spacingAndGlyphs">20</text>
<text x="1203.4" y="817.85" font-size="12" fill="#848e9c" textLength="12.8" lengthAdjust="spacingAndGlyphs">40</text>
<text x="1203.4" y="785.55" font-size="12" fill="#848e9c" textLength="12.8" lengthAdjust="spacingAndGlyphs">60</text>
<text x="1203.4" y="753.25" font-size="12" fill="#848e9c" textLength="12.8" lengthAdjust="spacingAndGlyphs">80</text>
<line x1="31.5" x2="31.5" y1="867" y2="970" stroke="#ffffff" stroke-opacity="0.013" stroke-width="1"/>
<line x1="210.5" x2="210.5" y1="867" y2="970" stroke="#ffffff" stroke-opacity="0.013" stroke-width="1"/>
<line x1="388.5" x2="388.5" y1="867" y2="970" stroke="#ffffff" stroke-opacity="0.013" stroke-width="1"/>
<line x1="566.5" x2="566.5" y1="867" y2="970" stroke="#ffffff" stroke-opacity="0.013" stroke-width="1"/>
<line x1="744.5" x2="744.5" y1="867" y2="970" stroke="#ffffff" stroke-opacity="0.013" stroke-width="1"/>
<line x1="922.5" x2="922.5" y1="867" y2="970" stroke="#ffffff" stroke-opacity="0.013" stroke-width="1"/>
<line x1="1100.5" x2="1100.5" y1="867" y2="970" stroke="#ffffff" stroke-opacity="0.013" stroke-width="1"/>
<g clip-path="url(#cv)">
<rect x="79.5" y="942.5" width="12" height="29.5" fill="#f6465d" fill-opacity="0.2" stroke="#f6465d" stroke-opacity="0.45" stroke-width="1"/>
<rect x="96.5" y="939.5" width="13" height="32.5" fill="#00d26a" fill-opacity="0.2" stroke="#00d26a" stroke-opacity="0.45" stroke-width="1"/>
<rect x="114.5" y="953.5" width="13" height="18.5" fill="#f6465d" fill-opacity="0.2" stroke="#f6465d" stroke-opacity="0.45" stroke-width="1"/>
<rect x="132.5" y="954.5" width="13" height="17.5" fill="#00d26a" fill-opacity="0.2" stroke="#00d26a" stroke-opacity="0.45" stroke-width="1"/>
<rect x="150.5" y="966.5" width="12" height="5.5" fill="#f6465d" fill-opacity="0.2" stroke="#f6465d" stroke-opacity="0.45" stroke-width="1"/>
<rect x="168.5" y="953.5" width="12" height="18.5" fill="#f6465d" fill-opacity="0.2" stroke="#f6465d" stroke-opacity="0.45" stroke-width="1"/>
<rect x="186.5" y="945.5" width="12" height="26.5" fill="#00d26a" fill-opacity="0.2" stroke="#00d26a" stroke-opacity="0.45" stroke-width="1"/>
<rect x="203.5" y="952.5" width="13" height="19.5" fill="#00d26a" fill-opacity="0.2" stroke="#00d26a" stroke-opacity="0.45" stroke-width="1"/>
<rect x="221.5" y="956.5" width="13" height="15.5" fill="#f6465d" fill-opacity="0.2" stroke="#f6465d" stroke-opacity="0.45" stroke-width="1"/>
<rect x="239.5" y="943.5" width="12" height="28.5" fill="#f6465d" fill-opacity="0.2" stroke="#f6465d" stroke-opacity="0.45" stroke-width="1"/>
<rect x="257.5" y="936.5" width="12" height="35.5" fill="#f6465d" fill-opacity="0.2" stroke="#f6465d" stroke-opacity="0.45" stroke-width="1"/>
<rect x="275.5" y="924.5" width="12" height="47.5" fill="#f6465d" fill-opacity="0.2" stroke="#f6465d" stroke-opacity="0.45" stroke-width="1"/>
<rect x="292.5" y="934.5" width="13" height="37.5" fill="#f6465d" fill-opacity="0.2" stroke="#f6465d" stroke-opacity="0.45" stroke-width="1"/>
<rect x="310.5" y="923.5" width="13" height="48.5" fill="#00d26a" fill-opacity="0.2" stroke="#00d26a" stroke-opacity="0.45" stroke-width="1"/>
<rect x="328.5" y="918.5" width="13" height="53.5" fill="#f6465d" fill-opacity="0.2" stroke="#f6465d" stroke-opacity="0.45" stroke-width="1"/>
<rect x="346.5" y="920.5" width="12" height="51.5" fill="#f6465d" fill-opacity="0.2" stroke="#f6465d" stroke-opacity="0.45" stroke-width="1"/>
<rect x="364.5" y="891.5" width="12" height="80.5" fill="#f6465d" fill-opacity="0.2" stroke="#f6465d" stroke-opacity="0.45" stroke-width="1"/>
<rect x="382.5" y="908.5" width="12" height="63.5" fill="#00d26a" fill-opacity="0.2" stroke="#00d26a" stroke-opacity="0.45" stroke-width="1"/>
<rect x="399.5" y="926.5" width="13" height="45.5" fill="#00d26a" fill-opacity="0.2" stroke="#00d26a" stroke-opacity="0.45" stroke-width="1"/>
<rect x="417.5" y="948.5" width="13" height="23.5" fill="#00d26a" fill-opacity="0.2" stroke="#00d26a" stroke-opacity="0.45" stroke-width="1"/>
<rect x="435.5" y="941.5" width="12" height="30.5" fill="#00d26a" fill-opacity="0.2" stroke="#00d26a" stroke-opacity="0.45" stroke-width="1"/>
<rect x="453.5" y="943.5" width="12" height="28.5" fill="#f6465d" fill-opacity="0.2" stroke="#f6465d" stroke-opacity="0.45" stroke-width="1"/>
<rect x="471.5" y="937.5" width="12" height="34.5" fill="#f6465d" fill-opacity="0.2" stroke="#f6465d" stroke-opacity="0.45" stroke-width="1"/>
<rect x="488.5" y="945.5" width="13" height="26.5" fill="#00d26a" fill-opacity="0.2" stroke="#00d26a" stroke-opacity="0.45" stroke-width="1"/>
<rect x="506.5" y="947.5" width="13" height="24.5" fill="#00d26a" fill-opacity="0.2" stroke="#00d26a" stroke-opacity="0.45" stroke-width="1"/>
<rect x="524.5" y="958.5" width="13" height="13.5" fill="#00d26a" fill-opacity="0.2" stroke="#00d26a" stroke-opacity="0.45" stroke-width="1"/>
<rect x="542.5" y="945.5" width="12" height="26.5" fill="#f6465d" fill-opacity="0.2" stroke="#f6465d" stroke-opacity="0.45" stroke-width="1"/>
<rect x="560.5" y="950.5" width="12" height="21.5" fill="#00d26a" fill-opacity="0.2" stroke="#00d26a" stroke-opacity="0.45" stroke-width="1"/>
<rect x="578.5" y="949.5" width="12" height="22.5" fill="#f6465d" fill-opacity="0.2" stroke="#f6465d" stroke-opacity="0.45" stroke-width="1"/>
<rect x="595.5" y="946.5" width="13" height="25.5" fill="#f6465d" fill-opacity="0.2" stroke="#f6465d" stroke-opacity="0.45" stroke-width="1"/>
<rect x="613.5" y="950.5" width="13" height="21.5" fill="#f6465d" fill-opacity="0.2" stroke="#f6465d" stroke-opacity="0.45" stroke-width="1"/>
<rect x="631.5" y="948.5" width="12" height="23.5" fill="#00d26a" fill-opacity="0.2" stroke="#00d26a" stroke-opacity="0.45" stroke-width="1"/>
<rect x="649.5" y="961.5" width="12" height="10.5" fill="#00d26a" fill-opacity="0.2" stroke="#00d26a" stroke-opacity="0.45" stroke-width="1"/>
<rect x="667.5" y="960.5" width="12" height="11.5" fill="#f6465d" fill-opacity="0.2" stroke="#f6465d" stroke-opacity="0.45" stroke-width="1"/>
<rect x="684.5" y="939.5" width="13" height="32.5" fill="#f6465d" fill-opacity="0.2" stroke="#f6465d" stroke-opacity="0.45" stroke-width="1"/>
<rect x="702.5" y="944.5" width="13" height="27.5" fill="#f6465d" fill-opacity="0.2" stroke="#f6465d" stroke-opacity="0.45" stroke-width="1"/>
<rect x="720.5" y="929.5" width="13" height="42.5" fill="#00d26a" fill-opacity="0.2" stroke="#00d26a" stroke-opacity="0.45" stroke-width="1"/>
<rect x="738.5" y="945.5" width="12" height="26.5" fill="#f6465d" fill-opacity="0.2" stroke="#f6465d" stroke-opacity="0.45" stroke-width="1"/>
<rect x="756.5" y="943.5" width="12" height="28.5" fill="#f6465d" fill-opacity="0.2" stroke="#f6465d" stroke-opacity="0.45" stroke-width="1"/>
<rect x="774.5" y="939.5" width="12" height="32.5" fill="#00d26a" fill-opacity="0.2" stroke="#00d26a" stroke-opacity="0.45" stroke-width="1"/>
<rect x="791.5" y="938.5" width="13" height="33.5" fill="#f6465d" fill-opacity="0.2" stroke="#f6465d" stroke-opacity="0.45" stroke-width="1"/>
<rect x="809.5" y="936.5" width="13" height="35.5" fill="#00d26a" fill-opacity="0.2" stroke="#00d26a" stroke-opacity="0.45" stroke-width="1"/>
<rect x="827.5" y="938.5" width="12" height="33.5" fill="#f6465d" fill-opacity="0.2" stroke="#f6465d" stroke-opacity="0.45" stroke-width="1"/>
<rect x="845.5" y="931.5" width="12" height="40.5" fill="#00d26a" fill-opacity="0.2" stroke="#00d26a" stroke-opacity="0.45" stroke-width="1"/>
<rect x="863.5" y="943.5" width="12" height="28.5" fill="#f6465d" fill-opacity="0.2" stroke="#f6465d" stroke-opacity="0.45" stroke-width="1"/>
<rect x="880.5" y="946.5" width="13" height="25.5" fill="#f6465d" fill-opacity="0.2" stroke="#f6465d" stroke-opacity="0.45" stroke-width="1"/>
<rect x="898.5" y="960.5" width="13" height="11.5" fill="#f6465d" fill-opacity="0.2" stroke="#f6465d" stroke-opacity="0.45" stroke-width="1"/>
<rect x="916.5" y="951.5" width="13" height="20.5" fill="#f6465d" fill-opacity="0.2" stroke="#f6465d" stroke-opacity="0.45" stroke-width="1"/>
<rect x="934.5" y="940.5" width="12" height="31.5" fill="#00d26a" fill-opacity="0.2" stroke="#00d26a" stroke-opacity="0.45" stroke-width="1"/>
<rect x="952.5" y="941.5" width="12" height="30.5" fill="#00d26a" fill-opacity="0.2" stroke="#00d26a" stroke-opacity="0.45" stroke-width="1"/>
<rect x="969.5" y="948.5" width="13" height="23.5" fill="#00d26a" fill-opacity="0.2" stroke="#00d26a" stroke-opacity="0.45" stroke-width="1"/>
<rect x="987.5" y="944.5" width="13" height="27.5" fill="#00d26a" fill-opacity="0.2" stroke="#00d26a" stroke-opacity="0.45" stroke-width="1"/>
<rect x="1005.5" y="933.5" width="13" height="38.5" fill="#00d26a" fill-opacity="0.2" stroke="#00d26a" stroke-opacity="0.45" stroke-width="1"/>
<rect x="1023.5" y="960.5" width="12" height="11.5" fill="#00d26a" fill-opacity="0.2" stroke="#00d26a" stroke-opacity="0.45" stroke-width="1"/>
<rect x="1041.5" y="951.5" width="12" height="20.5" fill="#00d26a" fill-opacity="0.2" stroke="#00d26a" stroke-opacity="0.45" stroke-width="1"/>
<rect x="1059.5" y="926.5" width="12" height="45.5" fill="#00d26a" fill-opacity="0.2" stroke="#00d26a" stroke-opacity="0.45" stroke-width="1"/>
<rect x="1076.5" y="944.5" width="13" height="27.5" fill="#f6465d" fill-opacity="0.2" stroke="#f6465d" stroke-opacity="0.45" stroke-width="1"/>
<rect x="1094.5" y="936.5" width="13" height="35.5" fill="#f6465d" fill-opacity="0.2" stroke="#f6465d" stroke-opacity="0.45" stroke-width="1"/>
<rect x="1112.5" y="940.5" width="12" height="31.5" fill="#f6465d" fill-opacity="0.2" stroke="#f6465d" stroke-opacity="0.45" stroke-width="1"/>
<rect x="1130.5" y="966.5" width="12" height="5.5" fill="#00d26a" fill-opacity="0.2" stroke="#00d26a" stroke-opacity="0.45" stroke-width="1"/>
</g>
<text x="37" y="893.1" font-size="12.2" fill="#848e9c" font-weight="bold" stroke="#848e9c" stroke-width="0.35" opacity="0.78" textLength="20.5" lengthAdjust="spacingAndGlyphs">Vol</text>
<text x="12.3" y="985" font-size="12" fill="#848e9c" textLength="36.4" lengthAdjust="spacingAndGlyphs">Jan 17</text>
<text x="191.3" y="985" font-size="12" fill="#848e9c" textLength="36.4" lengthAdjust="spacingAndGlyphs">Jan 27</text>
<text x="368.3" y="985" font-size="12" fill="#848e9c" textLength="39" lengthAdjust="spacingAndGlyphs">Feb 06</text>
<text x="546.3" y="985" font-size="12" fill="#848e9c" textLength="39" lengthAdjust="spacingAndGlyphs">Feb 16</text>
<text x="724" y="985" font-size="12" fill="#848e9c" textLength="39.2" lengthAdjust="spacingAndGlyphs">Feb 26</text>
<text x="901.8" y="985" font-size="12" fill="#848e9c" textLength="41" lengthAdjust="spacingAndGlyphs">Mar 08</text>
<text x="1079.8" y="985" font-size="12" fill="#848e9c" textLength="41.4" lengthAdjust="spacingAndGlyphs">Mar 18</text>
<text x="27.2" y="31.1" font-size="23.8" fill="#ffffff" font-weight="bold" stroke="#ffffff" stroke-width="0.45" textLength="129" lengthAdjust="spacingAndGlyphs">ETH/USDT</text>
<text x="960.3" y="30.9" font-size="19.6" fill="#f6465d" font-weight="bold" stroke="#f6465d" stroke-width="0.3" textLength="109.5" lengthAdjust="spacingAndGlyphs">$2,139.80</text>
<polygon points="1084.6,17.8 1099.4,17.8 1092,32.8" fill="#f6465d"/>
<text x="1107.9" y="30.9" font-size="19.6" fill="#f6465d" font-weight="bold" stroke="#f6465d" stroke-width="0.3" textLength="75.6" lengthAdjust="spacingAndGlyphs">-27.2%</text>
<text x="1193" y="1017.3" font-size="12.6" fill="#ffffff" font-style="italic" opacity="0.115" textLength="79.5" lengthAdjust="spacingAndGlyphs">cryance.com</text>
</svg>
</body></html>
